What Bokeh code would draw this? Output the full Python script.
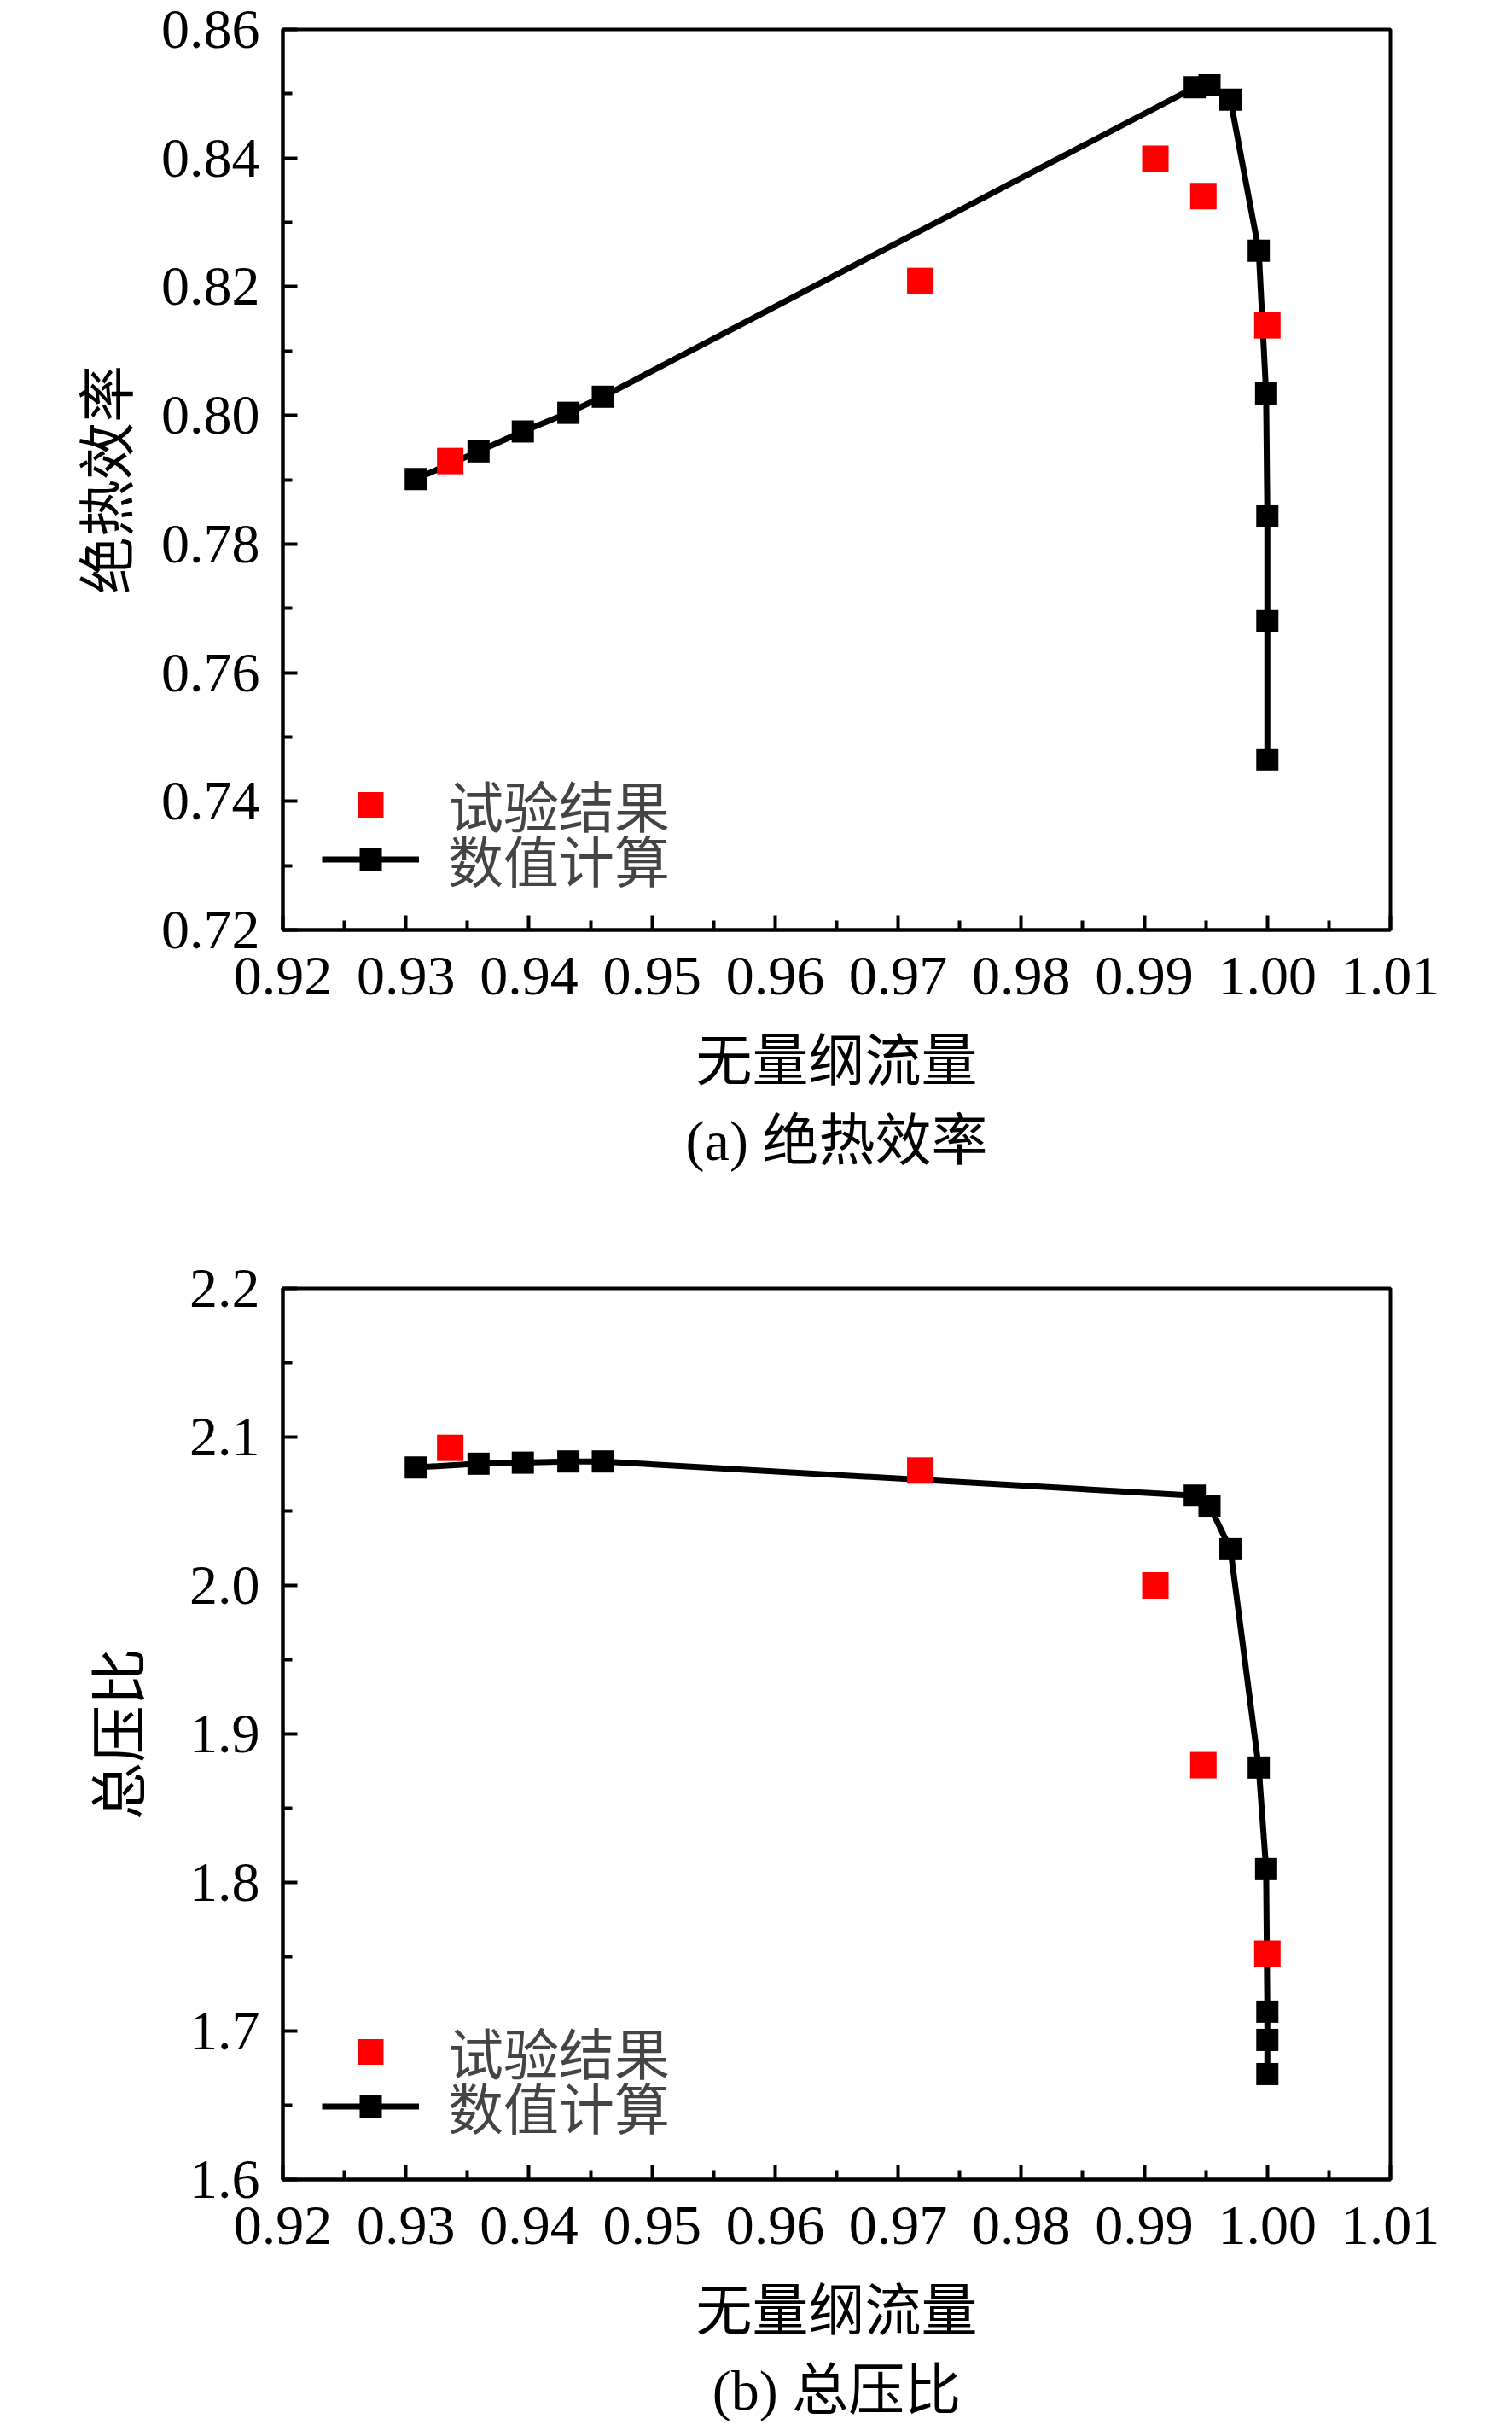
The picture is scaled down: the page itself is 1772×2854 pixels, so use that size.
from bokeh.plotting import figure
from bokeh.models import Range1d, FixedTicker, PrintfTickFormatter, Legend, LegendItem, Title
from bokeh.layouts import column
from bokeh.embed import file_html
from bokeh.resources import INLINE

# ---- data ----
flow_calc = [0.9308, 0.9359, 0.9395, 0.9432, 0.9460, 0.9941, 0.9953, 0.9970,
             0.9993, 0.9999, 1.0000, 1.0000, 1.0000]
eff_calc = [0.7901, 0.7944, 0.7975, 0.8004, 0.8029, 0.8510, 0.8513, 0.8491,
            0.8256, 0.8034, 0.7843, 0.7680, 0.7465]
pr_calc = [2.0795, 2.0820, 2.0827, 2.0835, 2.0835, 2.0605, 2.0537, 2.0245,
           1.8774, 1.8090, 1.7130, 1.6940, 1.6710]

flow_test = [0.9336, 0.9718, 0.9909, 0.9948, 1.0000]
eff_test = [0.7929, 0.8209, 0.8399, 0.8341, 0.8140]
pr_test = [2.0927, 2.0774, 2.0000, 1.8790, 1.7520]

x_major = [0.92, 0.93, 0.94, 0.95, 0.96, 0.97, 0.98, 0.99, 1.00, 1.01]
x_minor = [0.925, 0.935, 0.945, 0.955, 0.965, 0.975, 0.985, 0.995, 1.005]
eff_major = [0.72, 0.74, 0.76, 0.78, 0.80, 0.82, 0.84, 0.86]
eff_minor = [0.73, 0.75, 0.77, 0.79, 0.81, 0.83, 0.85]
pr_major = [1.6, 1.7, 1.8, 1.9, 2.0, 2.1, 2.2]
pr_minor = [1.65, 1.75, 1.85, 1.95, 2.05, 2.15]

x_title = "无量纲流量"
label_test = "试验结果"
label_calc = "数值计算"

NUM_FONT = "Liberation Serif"
CJK_FONT = "Liberation Serif, Noto Sans CJK SC"


def make_panel(ycalc, ytest, yrange, ymajor, yminor, yfmt, ytitle, caption,
               height, border_top, border_bottom, leg_y, ylab_standoff):
    p = figure(width=1756, height=height, output_backend="svg", toolbar_location=None,
               x_range=Range1d(0.92, 1.01), y_range=Range1d(*yrange),
               min_border_left=331, min_border_right=127,
               min_border_top=border_top, min_border_bottom=border_bottom)
    p.grid.visible = False
    p.outline_line_color = "black"
    p.outline_line_width = 4
    p.background_fill_color = "white"
    p.border_fill_color = "white"

    for ax, major, minor, fmt in ((p.xaxis[0], x_major, x_minor, "%.2f"),
                                  (p.yaxis[0], ymajor, yminor, yfmt)):
        ax.ticker = FixedTicker(ticks=major, minor_ticks=minor)
        ax.formatter = PrintfTickFormatter(format=fmt)
        ax.axis_line_width = 4
        ax.axis_line_color = "black"
        ax.major_tick_in = 17
        ax.major_tick_out = 0
        ax.minor_tick_in = 11
        ax.minor_tick_out = 0
        ax.major_tick_line_width = 4
        ax.minor_tick_line_width = 4
        ax.major_label_text_font = NUM_FONT
        ax.major_label_text_font_size = "66px"
        ax.major_label_text_color = "black"
        ax.axis_label_text_font = CJK_FONT
        ax.axis_label_text_font_style = "normal"
        ax.axis_label_text_color = "black"

    p.xaxis.axis_label_text_font_size = "66px"
    p.yaxis.axis_label_text_font_size = "67px"
    p.xaxis.major_label_standoff = 32
    p.yaxis.major_label_standoff = 27
    p.xaxis.axis_label = x_title
    p.yaxis.axis_label = ytitle
    p.xaxis.axis_label_standoff = 39
    p.yaxis.axis_label_standoff = ylab_standoff

    r_line = p.line(flow_calc, ycalc, line_color="black", line_width=7)
    r_calc = p.scatter(flow_calc, ycalc, marker="square", size=26,
                       fill_color="black", line_color="black", line_width=0)
    r_test = p.scatter(flow_test, ytest, marker="square", size=31,
                       fill_color="#ff0000", line_color="#ff0000", line_width=0)

    common = dict(padding=0, margin=0, spacing=0, glyph_width=114,
                  label_standoff=34, label_text_font=CJK_FONT,
                  label_text_font_size="65px", border_line_alpha=0,
                  background_fill_alpha=0)
    leg_test = Legend(items=[LegendItem(label=label_test, renderers=[r_test])],
                      location=(46, leg_y + 64), glyph_height=75, **common)
    leg_calc = Legend(items=[LegendItem(label=label_calc, renderers=[r_line, r_calc])],
                      location=(46, leg_y), glyph_height=65, **common)
    p.add_layout(leg_test, "center")
    p.add_layout(leg_calc, "center")

    cap = Title(text=caption, align="center", text_font=CJK_FONT,
                text_font_size="66px", text_font_style="normal", text_color="black",
                standoff=31)
    p.add_layout(cap, "below")
    return p


pa = make_panel(eff_calc, eff_test, (0.72, 0.86), eff_major, eff_minor, "%.2f",
                "绝热效率", "(a) 绝热效率", 1404, 34, 315, 36, 22)
pb = make_panel(pr_calc, pr_test, (1.6, 2.2), pr_major, pr_minor, "%.1f",
                "总压比", "(b) 总压比", 1448, 105, 298, 39, 41)

layout = column(pa, pb)
open("out.html", "w").write(file_html(layout, INLINE))
